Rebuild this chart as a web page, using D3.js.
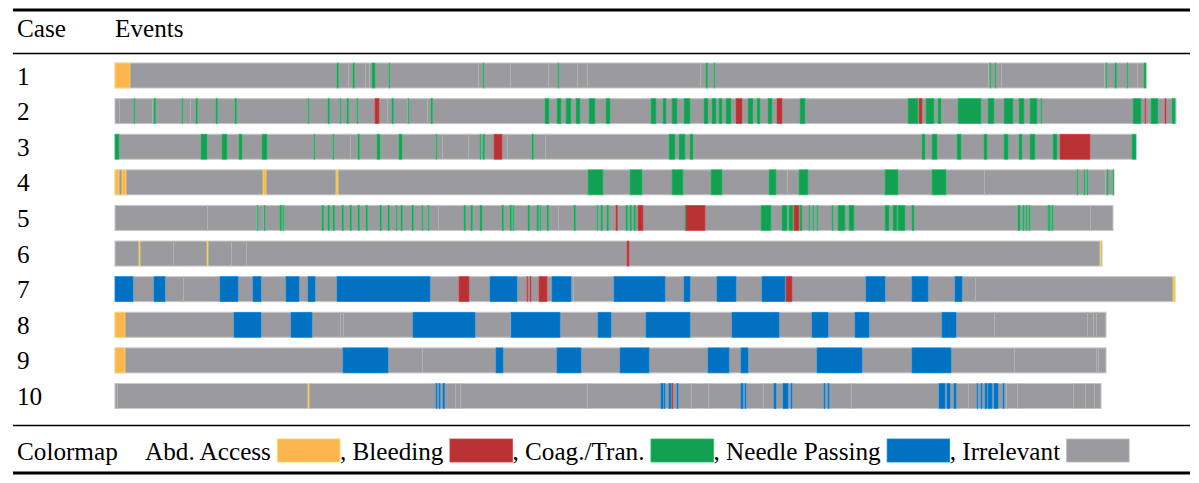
<!DOCTYPE html>
<html>
<head>
<meta charset="utf-8">
<script src="https://cdn.jsdelivr.net/npm/d3@7"></script>
<style>
  body { margin: 0; background: #fff; }
  text { font-family: "Liberation Serif", "Times New Roman", serif; fill: #000; }
</style>
</head>
<body>
<div id="chart"></div>
<script>
// categories and colours
const catCodes = ["a", "b", "c", "n", "i"];
const catNames = ["Abd. Access", "Bleeding", "Coag./Tran.", "Needle Passing", "Irrelevant"];
const catColors = ["#fdb64e", "#b83234", "#13a052", "#0171c1", "#9b9b9f"];

const cases = ["1", "2", "3", "4", "5", "6", "7", "8", "9", "10"];
// total duration of each case (time units)
const caseLengths = [1031, 1061, 1021, 999, 998, 987, 1060, 991, 991, 986];

// events of each case: [start, end, category]; everything else is irrelevant
const events1 = [[0,15,"a"],[222,223.5,"c"],[238,239.5,"c"],[257,260,"c"],[274,274.8,"c"],[368,368.8,"c"],
  [443,443.8,"c"],[591,592.5,"c"],[599,599.8,"c"],[875,875.8,"c"],[880,880.8,"c"],[991,991.8,"c"],
  [1000,1001.5,"c"],[1012,1012.8,"c"],[1029,1031,"c"]];
const events2 = [[19,19.8,"c"],[39,40.5,"c"],[67,67.8,"c"],[81,82.5,"c"],[101,102.5,"c"],[120,121.5,"c"],
  [193,193.8,"c"],[213,214.5,"c"],[225,225.8,"c"],[232,233.5,"c"],[242,242.8,"c"],[260,264,"b"],
  [277,278.5,"c"],[293,293.8,"c"],[316,317.5,"c"],[430,434,"c"],[442,446,"c"],[451,456,"c"],[461,465,"c"],
  [474,480,"c"],[491,495,"c"],[536,541,"c"],[548,551,"c"],[557,562,"c"],[569,575,"c"],[589,593,"c"],
  [597,601,"c"],[604,607,"c"],[611,616,"c"],[621,627,"b"],[633,638,"c"],[642,645,"c"],[653,657,"c"],
  [662,667,"b"],[685,690,"c"],[793,803,"c"],[804,807,"b"],[811,819,"c"],[823,826,"c"],[843,866,"c"],
  [873,879,"c"],[889,898,"c"],[904,909,"c"],[915,922,"c"],[926,926.8,"c"],[1018,1026,"c"],[1030,1030.8,"b"],
  [1036,1043,"c"],[1050,1051,"b"],[1057,1060,"c"]];
const events3 = [[0,4,"c"],[86,92,"c"],[107,112,"c"],[124,127,"c"],[147,152,"c"],[199,199.8,"c"],[218,218.8,"c"],
  [243,244.5,"c"],[262,265,"c"],[284,287,"c"],[321,321.8,"c"],[365,365.8,"c"],[368,369.5,"c"],[379,387,"b"],
  [417,418.5,"c"],[554,560,"c"],[564,570,"c"],[575,578,"c"],[807,810,"c"],[817,822,"c"],[842,846,"c"],
  [869,872,"c"],[889,893,"c"],[904,907,"c"],[915,920,"c"],[938,942,"c"],[945,975,"b"],[1017,1021,"c"]];
const events4 = [[0,4,"a"],[7,11,"a"],[148,151,"a"],[221,223,"a"],[473,488,"c"],[515,527,"c"],[557,568,"c"],
  [596,607,"c"],[654,661,"c"],[684,693,"c"],[770,783,"c"],[817,831,"c"],[962,962.8,"c"],[969,969.8,"c"],
  [972,972.8,"c"],[992,993,"c"],[998,998.8,"c"]];
const events5 = [[142,142.8,"c"],[149,150,"c"],[165,166.5,"c"],[168,168.8,"c"],[207,208.5,"c"],[213,214.5,"c"],
  [218,219.5,"c"],[227,228.5,"c"],[235,236.5,"c"],[243,244.5,"c"],[251,252.5,"c"],[265,266.5,"c"],[273,274.5,"c"],
  [281,281.8,"c"],[286,287.5,"c"],[297,298.5,"c"],[307,307.8,"c"],[313,313.8,"c"],[349,350.5,"c"],[356,357.5,"c"],
  [365,367,"c"],[387,388.5,"c"],[395,396.5,"c"],[398,398.8,"c"],[413,414.5,"c"],[422,423.5,"c"],[425,425.8,"c"],
  [432,433.5,"c"],[459,460.5,"c"],[482,482.8,"c"],[486,487.5,"c"],[492,493.5,"c"],[501,502.5,"b"],[511,512.5,"c"],
  [515,516.5,"c"],[519,520.5,"c"],[523,528,"b"],[570,571,"c"],[571,590,"b"],[646,656,"c"],[667,672,"c"],
  [674,678,"c"],[679,684,"b"],[685,687,"c"],[694,694.8,"c"],[698,698.8,"c"],[702,702.8,"c"],[717,718,"c"],
  [723,730,"c"],[734,739,"c"],[770,774,"c"],[778,782,"c"],[783,790,"c"],[797,799,"c"],[903,905,"c"],
  [908,909,"c"],[911,912,"c"],[914,915,"c"],[933,933.8,"c"],[934,935,"c"],[937,938,"c"]];
const events6 = [[24,25,"a"],[92,93,"a"],[512,514,"b"],[985,986,"a"]];
const events7 = [[0,18,"n"],[39,50,"n"],[105,123,"n"],[138,146,"n"],[171,184,"n"],[193,200,"n"],[222,315,"n"],
  [344,354,"b"],[375,402,"n"],[412,412.8,"b"],[415,416,"b"],[424,432,"b"],[437,456,"n"],[499,550,"n"],
  [569,575,"n"],[602,621,"n"],[647,670,"n"],[671,677,"b"],[751,770,"n"],[797,813,"n"],[840,847,"n"],
  [1058,1060,"a"]];
const events8 = [[0,10,"a"],[119,146,"n"],[176,197,"n"],[298,360,"n"],[396,445,"n"],[483,496,"n"],[531,575,"n"],
  [617,664,"n"],[697,713,"n"],[740,754,"n"],[827,841,"n"]];
const events9 = [[0,10,"a"],[228,273,"n"],[381,388,"n"],[442,466,"n"],[505,534,"n"],[593,614,"n"],[626,633,"n"],
  [702,747,"n"],[797,836,"n"]];
const events10 = [[193,194,"a"],[321,322,"n"],[324,325,"n"],[328,329.5,"n"],[546,548,"n"],[549,550,"n"],
  [554,556,"n"],[557,558,"b"],[562,563,"n"],[626,628,"n"],[630,631,"n"],[659,661,"n"],[668,673,"n"],
  [676,677,"n"],[709,710,"n"],[713,714,"n"],[824,830,"n"],[832,835,"n"],[839,841,"n"],[862,862.8,"n"],
  [866,867,"n"],[870,872,"n"],[873,877,"n"],[879,883,"n"],[888,889,"n"]];
const caseEvents = [events1, events2, events3, events4, events5, events6, events7, events8, events9, events10];

// boundaries between consecutive irrelevant segments
const caseSplits = [
  [233, 250, 254, 363, 395, 433, 462, 472, 585, 873, 886, 989, 1022],
  [4, 37, 75, 272, 292, 312],
  [235, 327, 353, 392, 430],
  [672, 869, 990],
  [92, 141, 148, 323, 443, 975],
  [58, 116, 131],
  [68, 458, 860],
  [225, 228, 395, 879, 972, 978, 981],
  [5, 307, 899, 981, 983],
  [2, 340, 345, 472, 576, 593, 648, 736, 853, 891, 902, 958, 970, 979]
];

const width = 1199, height = 483;
const svg = d3.select("#chart").append("svg")
  .attr("width", width).attr("height", height);

const color = d3.scaleOrdinal().domain(catCodes).range(catColors);
const x = d3.scaleLinear().domain([0, 1060]).range([115, 1175]);
const y = d3.scalePoint().domain(cases).range([75.5, 396]);
const barH = 25;
const fs = 25.2;

// table rules
const rules = [[10, 3], [53.5, 1.6], [425.5, 1.6], [473, 3]];
svg.selectAll("line.rule").data(rules).join("line")
  .attr("class", "rule")
  .attr("x1", 13).attr("x2", 1190)
  .attr("y1", d => d[0]).attr("y2", d => d[0])
  .attr("stroke", "#000").attr("stroke-width", d => d[1]);

// header
svg.append("text").attr("x", 17).attr("y", 37).attr("font-size", fs).text("Case");
svg.append("text").attr("x", 115).attr("y", 37).attr("font-size", fs).text("Events");

const rows = svg.selectAll("g.case").data(cases).join("g")
  .attr("class", "case")
  .attr("transform", d => `translate(0,${y(d) - barH / 2})`);

rows.append("text")
  .attr("x", 17).attr("y", barH / 2 + 9)
  .attr("font-size", fs)
  .text(d => d);

// irrelevant background
rows.append("rect")
  .attr("x", x(0))
  .attr("width", (d, i) => x(caseLengths[i]) - x(0))
  .attr("height", barH)
  .attr("fill", color("i"))
  .attr("stroke", "#c6c6c9").attr("stroke-width", 1);

// light boundaries between irrelevant segments
rows.each(function(d, i) {
  d3.select(this).selectAll("rect.split").data(caseSplits[i]).join("rect")
    .attr("class", "split")
    .attr("x", s => x(s))
    .attr("width", 1)
    .attr("height", barH)
    .attr("fill", "#b1b1b4");
});

// events
rows.each(function(d, i) {
  d3.select(this).selectAll("rect.ev").data(caseEvents[i]).join("rect")
    .attr("class", "ev")
    .attr("x", e => x(e[0]))
    .attr("width", e => Math.max(0.5, x(e[1]) - x(e[0])))
    .attr("height", barH)
    .attr("fill", e => color(e[2]))
    .attr("stroke", e => d3.color(color(e[2])).brighter(0.7))
    .attr("stroke-width", 0.6);
});

// legend
svg.append("text").attr("x", 17).attr("y", 460).attr("font-size", fs).text("Colormap");
let lx = 145;
catNames.forEach((name, i) => {
  const t = svg.append("text").attr("x", lx).attr("y", 460).attr("font-size", fs)
    .text((i === 0 ? "" : ", ") + name);
  lx += t.node().getComputedTextLength() + 6.5;
  svg.append("rect")
    .attr("x", lx).attr("y", 439)
    .attr("width", 62.5).attr("height", 23)
    .attr("fill", catColors[i])
    .attr("stroke", d3.color(catColors[i]).brighter(0.5)).attr("stroke-width", 0.8);
  lx += 62.5;
});
</script>
</body>
</html>
